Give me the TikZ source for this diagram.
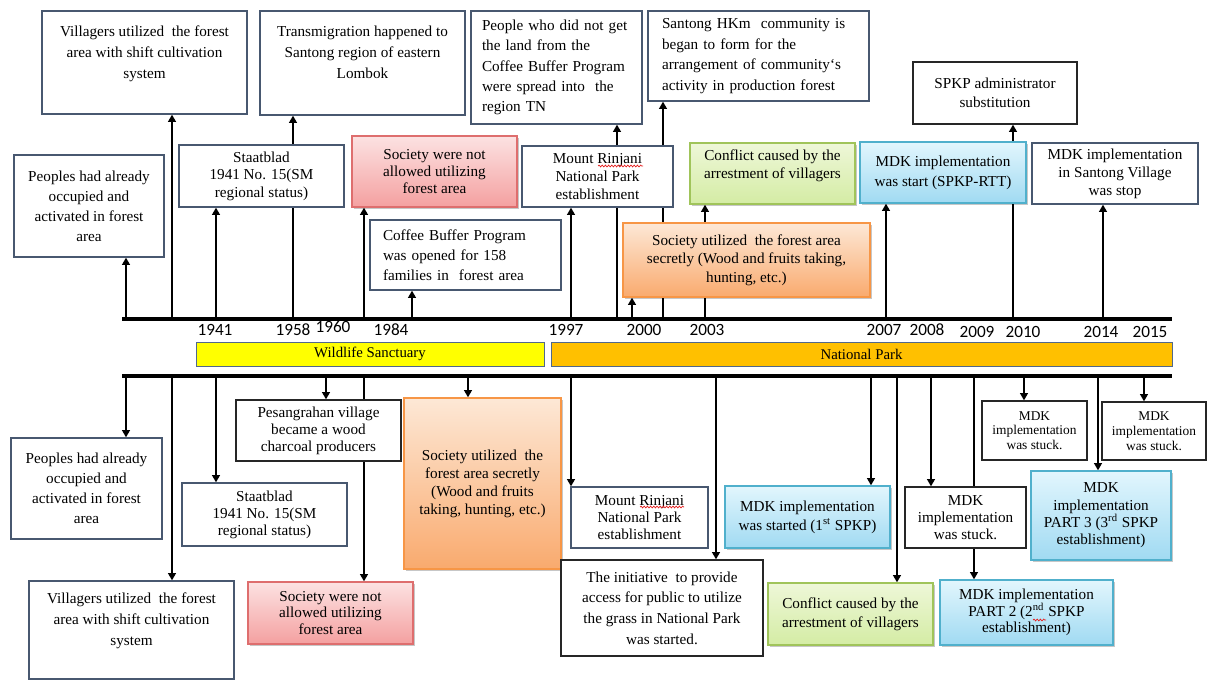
\documentclass[tikz,border=0pt]{standalone}
\usepackage{fontspec}
\setmainfont{Liberation Serif}
\newfontfamily\yearfont{Carlito}
\usetikzlibrary{arrows.meta,shadows,decorations.pathmorphing}
\pgfdeclarelayer{bg}
\pgfsetlayers{bg,main}
\definecolor{boxline}{RGB}{72,88,112}
\definecolor{redline}{RGB}{222,110,110}
\definecolor{redtop}{RGB}{252,226,226}
\definecolor{redbot}{RGB}{244,160,160}
\definecolor{grnline}{RGB}{160,196,90}
\definecolor{grntop}{RGB}{238,247,216}
\definecolor{grnbot}{RGB}{212,236,164}
\definecolor{bluline}{RGB}{80,176,204}
\definecolor{blutop}{RGB}{226,246,253}
\definecolor{blubot}{RGB}{160,218,242}
\definecolor{orgline}{RGB}{247,150,70}
\definecolor{orgtop}{RGB}{253,232,214}
\definecolor{orgbot}{RGB}{249,170,110}
\definecolor{ylw}{RGB}{255,255,0}
\definecolor{npark}{RGB}{255,192,0}
\definecolor{barline}{RGB}{80,104,140}
\definecolor{spell}{RGB}{230,30,30}
\tikzset{
  bx/.style={draw=boxline, line width=0.6pt, fill=white, inner sep=0pt, align=center,
    font=\fontsize{7.6}{10}\selectfont},
  fs/.style={font=\fontsize{7.6}{#1}\selectfont},
  dk/.style={draw=black!85},
  sh/.style={drop shadow={shadow xshift=1pt, shadow yshift=-1pt, fill=black, opacity=0.22}},
  redbox/.style={bx, sh, draw=redline, top color=redtop, bottom color=redbot},
  grnbox/.style={bx, sh, draw=grnline, top color=grntop, bottom color=grnbot},
  blubox/.style={bx, sh, draw=bluline, top color=blutop, bottom color=blubot},
  orgbox/.style={bx, sh, draw=orgline, top color=orgtop, bottom color=orgbot},
  lbox/.style={align=left},
  arr/.style={line width=1.2pt, -{Triangle[length=3.6pt,width=3.8pt]}},
  tline/.style={line width=2pt},
  yr/.style={font=\yearfont\fontsize{8.6}{9}\selectfont, inner sep=0pt},
  bar/.style={draw=barline, line width=0.5pt, inner sep=0pt, font=\fontsize{7.4}{8}\selectfont},
  wavy/.style={draw=spell, line width=0.35pt, decorate,
    decoration={snake, segment length=1.6pt, amplitude=0.45pt}},
}
\begin{document}
\begin{tikzpicture}[x=0.5pt,y=-0.5pt]
\useasboundingbox (0,0) rectangle (1207,680);

% ---------------- top boxes ----------------
\node[bx, fs=10, minimum width=75pt, minimum height=51pt] (tPeoples) at (89,206)
  {Peoples had already\\occupied and\\activated in forest\\area};
\node[bx, fs=10.5, minimum width=102.5pt, minimum height=51.5pt] (tVill) at (144.5,62.5)
  {Villagers utilized\ \ the forest\\area with shift cultivation\\system\\~};
\node[bx, fs=8.8, minimum width=82.5pt, minimum height=31pt] (tStaat) at (261.5,176)
  {Staatblad\\1941 No. 15(SM\\regional status)};
\node[bx, fs=10.5, minimum width=102.5pt, minimum height=52pt] (tTrans) at (362.5,63)
  {Transmigration happened to\\Santong region of eastern\\Lombok\\~};
\node[redbox, fs=8.5, minimum width=82.5pt, minimum height=35.5pt] (tRed) at (434.5,171.5)
  {Society were not\\allowed utilizing\\forest area};
\node[bx, lbox, fs=10, text width=82.5pt, inner xsep=6.5pt, minimum height=35pt] (tCoffee) at (465.5,255)
  {Coffee Buffer Program\\was opened for 158\\families in\ \ forest area};
\node[bx, lbox, fs=10.2, text width=74.5pt, inner xsep=5.5pt, minimum height=56.5pt] (tPeople2) at (556.5,67.5)
  {People who did not get\\the land from the\\Coffee Buffer Program\\were spread into\ \ the\\region TN};
\node[bx, lbox, fs=10.3, text width=96.5pt, inner xsep=7pt, minimum height=45pt] (tSantong) at (758.5,56)
  {Santong HKm\ \ community is\\began to form for the\\arrangement of community‘s\\activity in production forest};
\node[bx, fs=8.8, minimum width=75.5pt, minimum height=30.5pt] (tMount) at (597.5,176.5)
  {Mount Rinjani\\National Park\\establishment};
\node[orgbox, fs=9.3, minimum width=123.5pt, minimum height=37pt] (tOrange) at (746.5,260)
  {Society utilized\ \ the forest area\\secretly (Wood and fruits taking,\\hunting, etc.)};
\node[grnbox, fs=9, minimum width=82.5pt, minimum height=30.5pt] (tGreen) at (772.5,173.5)
  {Conflict caused by the\\arrestment of villagers\\~};
\node[blubox, fs=10, minimum width=83pt, minimum height=30.5pt] (tBlue) at (943,172.5)
  {MDK implementation\\was start (SPKP-RTT)};
\node[bx, dk, fs=9.5, minimum width=82pt, minimum height=31pt] (tSPKP) at (995,93)
  {SPKP administrator\\substitution};
\node[bx, fs=9, minimum width=83pt, minimum height=30.5pt] (tStop) at (1115,173.5)
  {MDK implementation\\in Santong Village\\was stop};

% ---------------- bottom boxes ----------------
\node[bx, fs=10, minimum width=75.5pt, minimum height=50.5pt] (bPeoples) at (86.5,488.5)
  {Peoples had already\\occupied and\\activated in forest\\area};
\node[bx, fs=10.5, minimum width=102.5pt, minimum height=49pt] (bVill) at (131.5,630)
  {Villagers utilized\ \ the forest\\area with shift cultivation\\system\\~};
\node[bx, fs=8.5, minimum width=82.5pt, minimum height=31.5pt] (bStaat) at (264.5,514.5)
  {Staatblad\\1941 No. 15(SM\\regional status)};
\node[bx, dk, fs=8.5, minimum width=82.5pt, minimum height=30.5pt] (bPesang) at (318.5,430.5)
  {Pesangrahan village\\became a wood\\charcoal producers};
\node[redbox, fs=8.3, minimum width=82.5pt, minimum height=31pt] (bRed) at (330.5,613)
  {Society were not\\allowed utilizing\\forest area};
\node[orgbox, fs=9, minimum width=78.5pt, minimum height=85.5pt] (bOrange) at (482.5,483.5)
  {Society utilized\ \ the\\forest area secretly\\(Wood and fruits\\taking, hunting, etc.)};
\node[bx, fs=8.7, minimum width=68.5pt, minimum height=30.5pt] (bMount) at (639.5,517.5)
  {Mount Rinjani\\National Park\\establishment};
\node[bx, dk, fs=10.3, minimum width=101pt, minimum height=48pt] (bInit) at (662,608)
  {The initiative\ \ to provide\\access for public to utilize\\the grass in National Park\\was started.};
\node[blubox, fs=9.5, minimum width=82.5pt, minimum height=31pt] (bBlue) at (807.5,517)
  {MDK implementation\\was started (1\textsuperscript{st} SPKP)};
\node[grnbox, fs=9.5, minimum width=82.5pt, minimum height=31pt] (bGreen) at (850.5,614)
  {Conflict caused by the\\arrestment of villagers};
\node[bx, dk, fs=8.5, minimum width=60.5pt, minimum height=30.5pt] (bStuckA) at (965.5,517.5)
  {MDK\\implementation\\was stuck.};
\node[blubox, fs=8.3, minimum width=86.5pt, minimum height=32.5pt] (bPart2) at (1026.5,612.5)
  {MDK implementation\\PART 2 (2\textsuperscript{nd} SPKP\\establishment)};
\node[bx, dk, font=\fontsize{6.7}{7.3}\selectfont, minimum width=52.5pt, minimum height=29.5pt] (bStuckB) at (1034.5,430.5)
  {MDK\\implementation\\was stuck.};
\node[bx, dk, font=\fontsize{6.7}{7.5}\selectfont, minimum width=52pt, minimum height=29pt] (bStuckC) at (1154,431)
  {MDK\\implementation\\was stuck.};
\node[blubox, fs=8.7, minimum width=70pt, minimum height=44.5pt] (bPart3) at (1101,515.5)
  {MDK\\implementation\\PART 3 (3\textsuperscript{rd} SPKP\\establishment)};

% spell-check marks as shown in the picture
\draw[wavy] (598,166) -- (643,166);
\draw[wavy] (640,507) -- (684,507);
\draw[wavy] (1033,620) -- (1046,620);

% ---------------- bars ----------------
\node[bar, fill=ylw, minimum width=174pt, minimum height=12pt] (ws) at (370,354) {Wildlife Sanctuary};
\node[bar, fill=npark, minimum width=310.5pt, minimum height=12pt] (np) at (861.5,354) {National Park};

% ---------------- years ----------------
\node[yr] (y1941) at (215,330) {1941};
\node[yr] (y1958) at (293,330) {1958};
\node[yr] (y1960) at (333,327) {1960};
\node[yr] (y1984) at (391,330) {1984};
\node[yr] (y1997) at (566,330) {1997};
\node[yr] (y2000) at (644,330) {2000};
\node[yr] (y2003) at (707,330) {2003};
\node[yr] (y2007) at (884,330) {2007};
\node[yr] (y2008) at (927,330) {2008};
\node[yr] (y2009) at (977,332) {2009};
\node[yr] (y2010) at (1023,332) {2010};
\node[yr] (y2014) at (1101,332) {2014};
\node[yr] (y2015) at (1150,332) {2015};

% ---------------- timelines and connectors ----------------
\coordinate (TLa) at (122,319);
\coordinate (TRa) at (1172,319);
\coordinate (TLb) at (122,376);
\coordinate (TRb) at (1172,376);
\begin{pgfonlayer}{bg}
\draw[tline] (TLa) -- (TRa);
\draw[tline] (TLb) -- (TRb);
\foreach \xx/\nm in {126/tPeoples,172/tVill,216/tStaat,293/tTrans,364/tRed,412/tCoffee,
    571/tMount,617/tPeople2,632/tOrange,663/tSantong,705/tGreen,886/tBlue,1013/tSPKP,1103/tStop}{
  \coordinate (u) at (\xx,319);
  \draw[arr] (u) -- (u |- \nm.south);
}
\foreach \xx/\nm in {126/bPeoples,172/bVill,216/bStaat,326/bPesang,364/bRed,468/bOrange,
    571/bMount,716/bInit,871/bBlue,897/bGreen,931/bStuckA,974/bPart2,1024/bStuckB,1098/bPart3,1144/bStuckC}{
  \coordinate (d) at (\xx,376);
  \draw[arr] (d) -- (d |- \nm.north);
}
\end{pgfonlayer}
\end{tikzpicture}
\end{document}
